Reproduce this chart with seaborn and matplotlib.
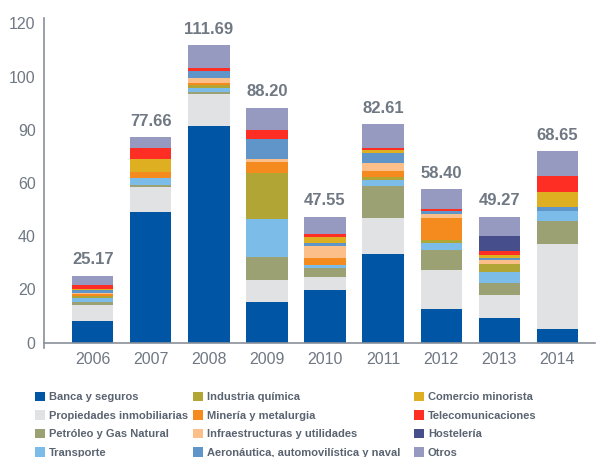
import numpy as np
import pandas as pd
import matplotlib
matplotlib.use("Agg")
import matplotlib.pyplot as plt
import seaborn as sns
from matplotlib.patches import Patch

years = ["2006", "2007", "2008", "2009", "2010", "2011", "2012", "2013", "2014"]
totals = ["25.17", "77.66", "111.69", "88.20", "47.55", "82.61", "58.40", "49.27", "68.65"]

banca = [8.1, 49.2, 81.3, 15.1, 19.8, 33.4, 12.5, 9.4, 5.2]
propiedades = [6.0, 9.4, 12.0, 8.3, 4.9, 13.3, 14.7, 8.7, 31.7]
petroleo = [1.1, 0.8, 1.0, 8.8, 3.4, 12.1, 7.5, 4.2, 8.7]
transporte = [1.6, 2.3, 1.4, 14.3, 1.1, 2.3, 2.6, 4.2, 3.8]
industria = [0.6, 0.0, 1.2, 17.3, 0.0, 1.1, 1.1, 3.0, 0.0]
mineria = [1.0, 2.3, 0.8, 4.2, 2.6, 2.3, 8.3, 0.0, 0.0]
infra = [0.3, 0.0, 1.9, 1.1, 4.5, 3.0, 1.5, 1.5, 0.0]
aero = [1.2, 0.0, 2.3, 7.5, 1.1, 3.8, 1.1, 0.8, 1.5]
comercio = [0.3, 5.2, 0.0, 0.0, 2.3, 1.1, 0.0, 1.1, 5.7]
telecom = [1.6, 3.8, 1.3, 3.4, 1.1, 0.8, 1.1, 1.5, 6.0]
hosteleria = [0.0, 0.0, 0.0, 0.0, 0.0, 0.0, 0.0, 5.7, 0.0]
otros = [3.4, 4.3, 8.5, 8.3, 6.5, 8.8, 7.2, 7.2, 9.4]

series_names = [
    "Banca y seguros", "Propiedades inmobiliarias", "Petróleo y Gas Natural", "Transporte",
    "Industria química", "Minería y metalurgia", "Infraestructuras y utilidades",
    "Aeronáutica, automovilística y naval",
    "Comercio minorista", "Telecomunicaciones", "Hostelería", "Otros",
]
series_values = [banca, propiedades, petroleo, transporte, industria, mineria, infra, aero,
                 comercio, telecom, hosteleria, otros]
colors = ["#0055a5", "#e1e2e4", "#9ca173", "#7bbde8", "#b0a535", "#f58a1f", "#fdbf8a",
          "#5f95c9", "#deb021", "#ff2e24", "#474e8c", "#979ac0"]
ytick_vals = [0, 20, 40, 60, 80, 100, 120]
ytick_labels = ["0", "20", "40", "60", "90", "100", "120"]

sns.set_theme(style="white")
plt.rcParams["font.family"] = ["Liberation Sans", "DejaVu Sans"]

W, H = 601, 457
fig = plt.figure(figsize=(W / 100, H / 100), dpi=100)
ax = fig.add_axes([44 / W, 1 - 348 / H, (595 - 44) / W, (348 - 18) / H])

cum = np.cumsum(np.array(series_values), axis=0)
for i in range(len(series_names) - 1, -1, -1):
    df = pd.DataFrame({"year": years, "value": cum[i]})
    sns.barplot(data=df, x="year", y="value", order=years, color=colors[i],
                saturation=1, width=0.71, errorbar=None, ax=ax, linewidth=0)

tops = cum[-1]
for i, (t, lab) in enumerate(zip(tops, totals)):
    ax.annotate(lab, (i, t), xytext=(0, 6), textcoords="offset points",
                ha="center", va="bottom", fontsize=12, fontweight="bold", color="#6f7883")

ax.set_xlim(-0.84, 8.65)
ax.set_ylim(-2, 122)
ax.set_yticks(ytick_vals)
ax.set_yticklabels(ytick_labels)
ax.set_xlabel("")
ax.set_ylabel("")
for s in ["top", "right"]:
    ax.spines[s].set_visible(False)
ax.spines["bottom"].set_position(("data", 0))
for s in ["left", "bottom"]:
    ax.spines[s].set_color("#8a9099")
    ax.spines[s].set_linewidth(1.2)
ax.tick_params(axis="both", length=0, colors="#6f7883", labelsize=11.5)
ax.tick_params(axis="y", pad=6)
ax.tick_params(axis="x", pad=7)

col_x = [35, 193, 414]
for c in range(3):
    handles = [Patch(facecolor=colors[c * 4 + k], edgecolor="none") for k in range(4)]
    labels = series_names[c * 4:(c + 1) * 4]
    leg = fig.legend(handles, labels, loc="upper left",
                     bbox_to_anchor=(col_x[c] / W, 1 - 392 / H),
                     frameon=False, borderpad=0, borderaxespad=0,
                     handlelength=0.9, handleheight=0.9, handletextpad=0.35,
                     labelspacing=0.72, prop={"size": 8, "weight": "bold"})
    for t in leg.get_texts():
        t.set_color("#5a6370")

fig.savefig("out.png", dpi=100)
